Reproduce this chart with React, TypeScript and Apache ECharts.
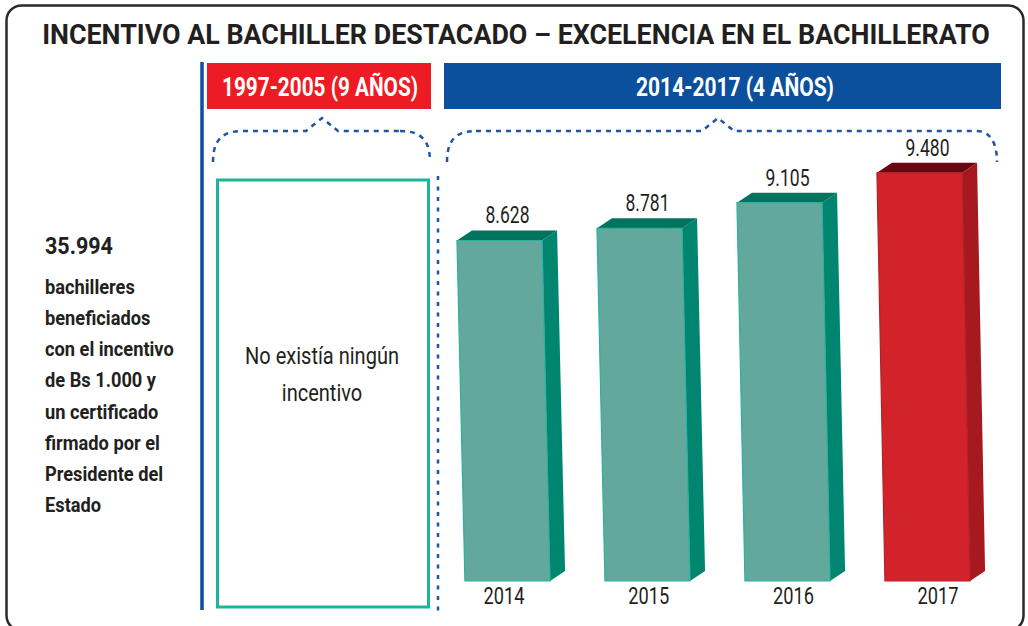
import React, { useEffect, useRef } from 'react';
import * as echarts from 'echarts';

const TITLE = 'INCENTIVO AL BACHILLER DESTACADO – EXCELENCIA EN EL BACHILLERATO';
const PERIOD_BEFORE = '1997-2005 (9 AÑOS)';
const PERIOD_NOW = '2014-2017 (4 AÑOS)';
const NO_INCENTIVE = ['No existía ningún', 'incentivo'];
const NOTE_LINES = [
  'bachilleres',
  'beneficiados',
  'con el incentivo',
  'de Bs 1.000 y',
  'un certificado',
  'firmado por el',
  'Presidente del',
  'Estado',
];
const YEARS = ['2014', '2015', '2016', '2017'];
const BENEFICIARIES = [8628, 8781, 9105, 9480];
const HIGHLIGHT_YEAR = '2017';

const fmt = (n: number) => String(n).replace(/\B(?=(\d{3})+(?!\d))/g, '.');
const TOTAL = BENEFICIARIES.reduce((a, b) => a + b, 0);

const FONT = 'Roboto, "Liberation Sans", sans-serif';
const INK = '#231f20';
const BLUE = '#0c4f9c';
const DOT_BLUE = '#1f55a4';

const TEAL = { front: '#63a89d', top: '#00735f', side: '#008670', edge: '#2bb29c' };
const RED = { front: '#d2232a', top: '#680710', side: '#a5191f', edge: '#b52027' };

const Y_MIN = 4340;
const Y_MAX = 10385;

let measureCtx: CanvasRenderingContext2D | null = null;
function measure(text: string, size: number, bold: boolean) {
  if (!measureCtx) measureCtx = document.createElement('canvas').getContext('2d');
  if (!measureCtx) return 1;
  measureCtx.font = `${bold ? 'bold' : 'normal'} ${size}px ${FONT}`;
  return measureCtx.measureText(text).width || 1;
}
const fitScale = (text: string, size: number, bold: boolean, target: number) =>
  target / measure(text, size, bold);

function txt(text: string, x: number, y: number, size: number, opts: any = {}) {
  return {
    type: 'text',
    x,
    y,
    scaleX: opts.scaleX ?? 1,
    style: {
      text,
      fill: opts.fill ?? INK,
      fontSize: size,
      fontWeight: opts.bold ? 'bold' : 'normal',
      fontFamily: FONT,
      align: opts.align ?? 'left',
      textAlign: opts.align ?? 'left',
      verticalAlign: 'middle',
      textVerticalAlign: 'middle',
    },
  };
}

function brace(x1: number, x2: number, peakX: number, flatL: number, flatR: number) {
  const yB = 162;
  const yF = 131;
  const yP = 118;
  const st = { stroke: DOT_BLUE, lineWidth: 2.5, lineDash: [5, 5], fill: 'none' };
  return [
    {
      type: 'bezierCurve',
      shape: { x1, y1: yB, cpx1: x1, cpy1: yF + 9, cpx2: x1 + 9, cpy2: yF, x2: flatL, y2: yF },
      style: st,
    },
    {
      type: 'polyline',
      shape: {
        points: [
          [flatL, yF],
          [peakX - 16, yF],
          [peakX, yP],
          [peakX + 16, yF],
          [flatR, yF],
        ],
      },
      style: st,
    },
    {
      type: 'bezierCurve',
      shape: { x1: flatR, y1: yF, cpx1: x2 - 9, cpy1: yF, cpx2: x2, cpy2: yF + 9, x2, y2: yB },
      style: st,
    },
  ];
}

export default function App() {
  const ref = useRef<HTMLDivElement>(null);
  useEffect(() => {
    if (!ref.current) return;
    const chart = echarts.init(ref.current, null, { renderer: 'svg' });

    const valueScale = fitScale(fmt(BENEFICIARIES[0]), 23, false, 44);
    const yearScale = fitScale(YEARS[0], 23, false, 41);

    const renderBar = (params: any, api: any) => {
      const i = api.value(0);
      const v = api.value(1);
      const top = api.coord([i, v]);
      const base = api.coord([i, Y_MIN]);
      const band = api.size([1, 0])[0];
      const hw = band * 0.304;
      const cx = top[0];
      const ty = top[1];
      const by = base[1];
      const lean = 8;
      const dx = 15;
      const dy = -10;
      const c = YEARS[i] === HIGHLIGHT_YEAR ? RED : TEAL;
      return {
        type: 'group',
        children: [
          {
            type: 'polygon',
            shape: {
              points: [
                [cx + hw, ty],
                [cx + hw + dx, ty + dy],
                [cx + hw + dx + lean, by + dy],
                [cx + hw + lean, by],
              ],
            },
            style: { fill: c.side },
          },
          {
            type: 'polygon',
            shape: {
              points: [
                [cx - hw, ty],
                [cx - hw + dx, ty + dy],
                [cx + hw + dx, ty + dy],
                [cx + hw, ty],
              ],
            },
            style: { fill: c.top },
          },
          {
            type: 'polygon',
            shape: {
              points: [
                [cx - hw, ty],
                [cx + hw, ty],
                [cx + hw + lean, by],
                [cx - hw + lean, by],
              ],
            },
            style: { fill: c.front, stroke: c.edge, lineWidth: 1.2 },
          },
          {
            type: 'text',
            x: cx + 8,
            y: ty - 25,
            scaleX: valueScale,
            style: {
              text: fmt(v),
              fill: INK,
              fontSize: 23,
              fontFamily: FONT,
              align: 'center',
              textAlign: 'center',
              verticalAlign: 'middle',
              textVerticalAlign: 'middle',
            },
          },
        ],
      };
    };

    const renderYear = (params: any, api: any) => {
      const i = api.value(0);
      const p = api.coord([i, 0]);
      return {
        type: 'text',
        x: p[0],
        y: p[1] + 15,
        scaleX: yearScale,
        style: {
          text: YEARS[i],
          fill: INK,
          fontSize: 23,
          fontFamily: FONT,
          align: 'center',
          textAlign: 'center',
          verticalAlign: 'middle',
          textVerticalAlign: 'middle',
        },
      };
    };

    const noteScale = fitScale(NOTE_LINES[2], 20, true, 129);
    const boxScale = fitScale(NO_INCENTIVE[0], 24, false, 154);

    const graphic: any[] = [
      {
        type: 'rect',
        shape: { x: 6.5, y: 5.5, width: 1017, height: 625, r: 15 },
        style: { fill: 'none', stroke: '#2b2829', lineWidth: 2.5 },
      },
      txt(TITLE, 516, 35, 28, { bold: true, align: 'center', scaleX: fitScale(TITLE, 28, true, 948) }),
      {
        type: 'line',
        shape: { x1: 202, y1: 62, x2: 202, y2: 610 },
        style: { stroke: BLUE, lineWidth: 3.5 },
      },
      { type: 'rect', shape: { x: 207, y: 63, width: 224, height: 46 }, style: { fill: '#ed1c24' } },
      txt(PERIOD_BEFORE, 320, 87, 26, {
        bold: true,
        align: 'center',
        fill: '#fff',
        scaleX: fitScale(PERIOD_BEFORE, 26, true, 196),
      }),
      { type: 'rect', shape: { x: 444, y: 63, width: 557, height: 46 }, style: { fill: BLUE } },
      txt(PERIOD_NOW, 735, 87, 26, {
        bold: true,
        align: 'center',
        fill: '#fff',
        scaleX: fitScale(PERIOD_NOW, 26, true, 198),
      }),
      ...brace(213, 430, 322, 243, 400),
      ...brace(447, 997, 718, 476, 977),
      {
        type: 'rect',
        shape: { x: 217.5, y: 180, width: 211, height: 427 },
        style: { fill: 'none', stroke: '#1ab59a', lineWidth: 3 },
      },
      txt(NO_INCENTIVE[0], 322, 356, 24, { align: 'center', scaleX: boxScale }),
      txt(NO_INCENTIVE[1], 322, 393, 24, { align: 'center', scaleX: boxScale }),
      {
        type: 'line',
        shape: { x1: 438, y1: 176, x2: 438, y2: 613 },
        style: { stroke: DOT_BLUE, lineWidth: 2.5, lineDash: [4, 6.5] },
      },
      txt(fmt(TOTAL), 45, 246, 24, { bold: true, scaleX: fitScale(fmt(TOTAL), 24, true, 68) }),
      ...NOTE_LINES.map((l, k) => txt(l, 45, 287 + 31.2 * k, 20, { bold: true, scaleX: noteScale })),
    ];

    chart.setOption({
      animation: false,
      grid: [
        { left: 429.5, width: 560, top: 101, height: 480 },
        { left: 431.7, width: 578.7, top: 101, height: 480 },
      ],
      xAxis: [
        { gridIndex: 0, type: 'category', data: YEARS, show: false },
        { gridIndex: 1, type: 'category', data: YEARS, show: false },
      ],
      yAxis: [
        { gridIndex: 0, type: 'value', min: Y_MIN, max: Y_MAX, show: false },
        { gridIndex: 1, type: 'value', min: 0, max: 1, show: false },
      ],
      series: [
        {
          type: 'custom',
          xAxisIndex: 0,
          yAxisIndex: 0,
          data: BENEFICIARIES.map((v, i) => [i, v]),
          renderItem: renderBar,
        },
        {
          type: 'custom',
          xAxisIndex: 1,
          yAxisIndex: 1,
          data: YEARS.map((y, i) => [i, 0]),
          renderItem: renderYear,
        },
      ],
      graphic,
    });
    return () => chart.dispose();
  }, []);
  return (
    <div
      ref={ref}
      style={{ position: 'absolute', left: 0, top: 0, width: 1028, height: 626, background: '#fff' }}
    />
  );
}
